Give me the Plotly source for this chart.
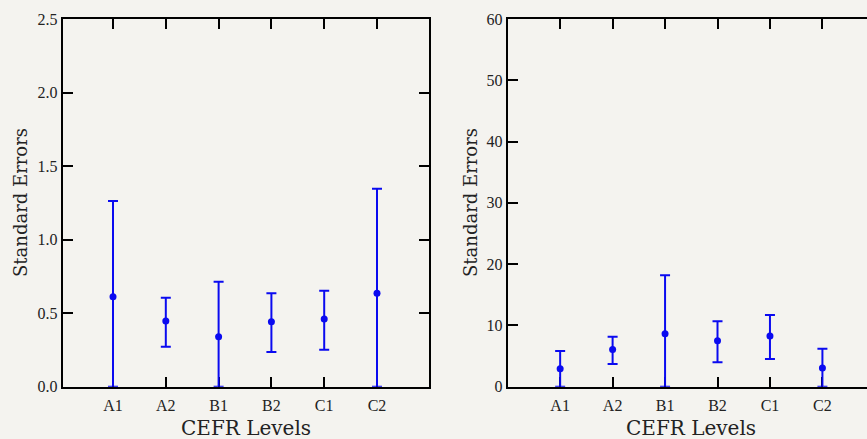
import plotly.graph_objects as go

levels = ["A1", "A2", "B1", "B2", "C1", "C2"]

# Left panel
left_mean = [0.612, 0.447, 0.340, 0.442, 0.460, 0.635]
left_upper = [1.262, 0.605, 0.714, 0.635, 0.653, 1.346]
left_lower = [0.0, 0.272, 0.0, 0.236, 0.252, 0.0]
left_yticks = [0.0, 0.5, 1.0, 1.5, 2.0, 2.5]

# Right panel
right_mean = [2.94, 6.09, 8.65, 7.51, 8.27, 3.05]
right_upper = [5.82, 8.16, 18.17, 10.66, 11.70, 6.20]
right_lower = [0.0, 3.70, 0.0, 3.97, 4.52, 0.0]
right_yticks = [0, 10, 20, 30, 40, 50, 60]

BG = "#F4F3EF"
BLUE = "#0A0AF0"
TITLE_FONT = "DejaVu Serif"
TICK_FONT = "Liberation Serif"
TXT = "#222"
W, H = 867, 439


def trace(mean, upper, lower, xa, ya):
    return go.Scatter(
        x=levels, y=mean, xaxis=xa, yaxis=ya, mode="markers",
        marker=dict(color=BLUE, size=7),
        error_y=dict(type="data", symmetric=False,
                     array=[u - m for u, m in zip(upper, mean)],
                     arrayminus=[m - l for m, l in zip(mean, lower)],
                     color=BLUE, thickness=2, width=5),
        cliponaxis=False, showlegend=False, hoverinfo="skip")


fig = go.Figure()
fig.add_trace(trace(left_mean, left_upper, left_lower, "x", "y"))
fig.add_trace(trace(right_mean, right_upper, right_lower, "x2", "y2"))

ydom = [(H - 386.7) / H, (H - 19) / H]
common_ax = dict(showline=True, linecolor="black", linewidth=2, mirror="ticks",
                 ticks="inside", ticklen=10, tickwidth=2, tickcolor="black",
                 showgrid=False, zeroline=False, layer="below traces", automargin=False,
                 tickfont=dict(family=TICK_FONT, size=16, color=TXT))

fig.update_layout(
    template="none",
    width=W, height=H, margin=dict(l=0, r=0, t=0, b=0, pad=0, autoexpand=False),
    paper_bgcolor=BG, plot_bgcolor=BG, showlegend=False,
    xaxis=dict(domain=[62.7 / W, 429 / W], range=[-0.953, 5.985], type="category",
               anchor="y", ticklabelstandoff=3, **common_ax),
    yaxis=dict(domain=ydom, range=[0, 2.5], tickvals=left_yticks,
               ticktext=[f"{v:.1f}" for v in left_yticks], anchor="x", **common_ax),
    xaxis2=dict(domain=[507.7 / W, 1.0], range=[-1.0, 5.85], type="category",
                anchor="y2", ticklabelstandoff=3, **common_ax),
    yaxis2=dict(domain=ydom, range=[0, 60], tickvals=right_yticks,
                ticktext=[str(v) for v in right_yticks], anchor="x2",
                **{**common_ax, "mirror": False}),
    # right-hand ticks of the right panel (its right spine lies just outside the frame)
    yaxis3=dict(domain=ydom, range=[0, 60], tickvals=right_yticks, overlaying="y2",
                anchor="free", position=1.0, side="right", showline=False,
                ticks="inside", ticklen=3, tickwidth=2, tickcolor="black",
                showticklabels=False, showgrid=False, zeroline=False, automargin=False),
)

ann = []
for cx, cy in [(245.9, 428), (691.3, 428)]:
    ann.append(dict(text="CEFR Levels", x=cx / W, y=(H - cy) / H, xref="paper", yref="paper",
                    showarrow=False, xanchor="center", yanchor="middle",
                    font=dict(family=TITLE_FONT, size=20, color=TXT)))
for cx in [20, 470]:
    ann.append(dict(text="Standard Errors", x=cx / W, y=(H - 203) / H, xref="paper", yref="paper",
                    showarrow=False, xanchor="center", yanchor="middle", textangle=-90,
                    font=dict(family=TITLE_FONT, size=18, color=TXT)))
fig.update_layout(annotations=ann)

fig.write_html("out.html", config={"displayModeBar": False},
               post_script="document.body.style.margin='0';document.body.style.overflow='hidden';"
                           "document.documentElement.style.background='" + BG + "';")
